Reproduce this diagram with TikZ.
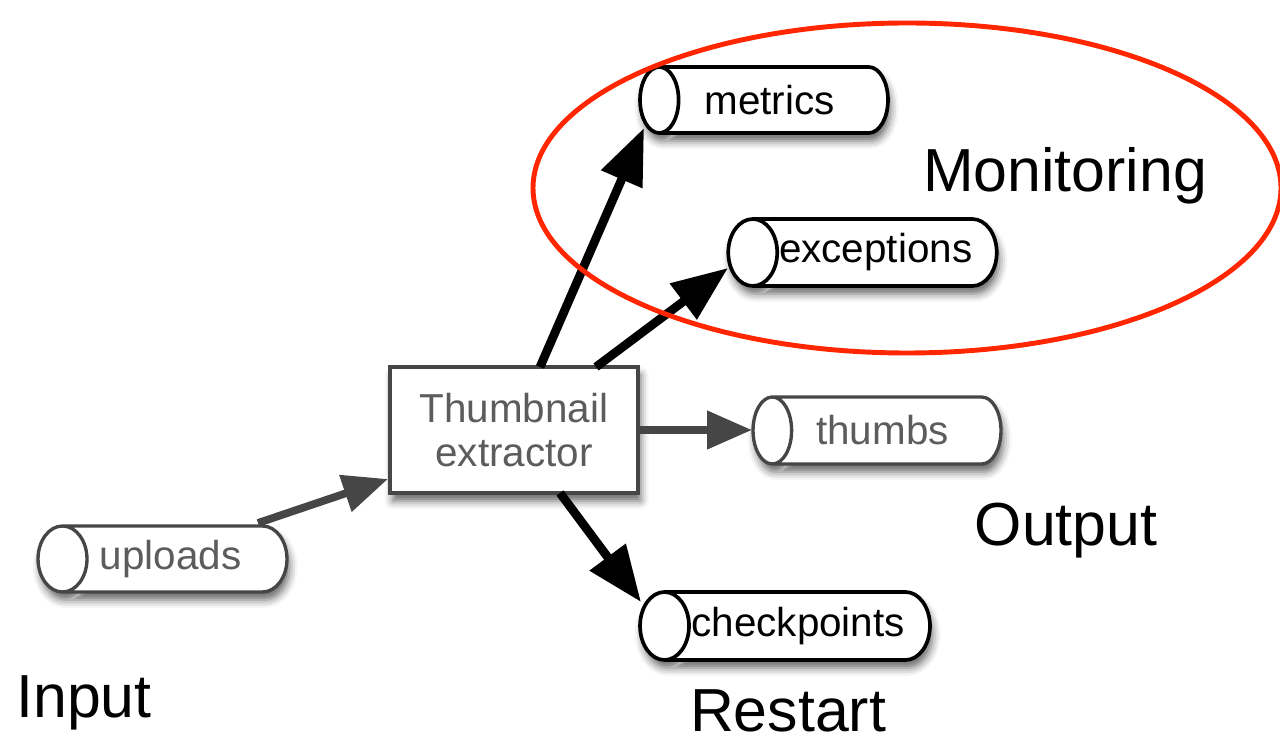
\documentclass[tikz,border=0pt]{standalone}
\usepackage{fontspec}
\setmainfont{Liberation Sans}
\usetikzlibrary{shapes.geometric,shadows.blur,arrows.meta,calc}

\definecolor{lineGray}{RGB}{70,70,70}
\definecolor{textGray}{RGB}{92,92,92}
\definecolor{ringRed}{RGB}{255,38,0}

% label text sits a little left of the cylinder's text centre
\newcommand{\qlabel}[1]{#1\hspace*{0.2cm}}

\tikzset{
  soft shadow/.style={blur shadow={shadow xshift=1.5pt, shadow yshift=-4.5pt,
      shadow blur radius=4.5pt, shadow opacity=60}},
  queue/.style={cylinder, shape border rotate=180, aspect=1.3, draw=black,
      line width=2.1pt, fill=white, inner sep=0pt, anchor=shape center,
      font=\fontsize{23}{27}\selectfont, soft shadow},
  queue gray/.style={queue, draw=lineGray, line width=1.9pt, text=textGray},
  worker/.style={rectangle, draw=lineGray, line width=2pt, fill=white,
      minimum width=4.96cm, minimum height=2.52cm, align=center,
      font=\fontsize{23}{25}\selectfont, text=textGray, soft shadow},
  flow/.style={line width=5pt, -{Triangle[length=1.12cm, width=0.86cm]}},
  flow gray/.style={draw=lineGray, line width=4.4pt,
      -{Triangle[length=0.9cm, width=0.74cm]}},
  caption/.style={anchor=base, inner sep=0pt, text depth=0pt,
      font=\fontsize{34.6}{40}\selectfont}
}

\begin{document}
\begin{tikzpicture}[x=0.02cm, y=-0.02cm]
\useasboundingbox (0,0) rectangle (1280,742);

% topics (for this cylinder, width = diameter, height = length)
\node[queue gray, minimum height=4.98cm, minimum width=1.32cm] (uploads) at (162.5,559) {\qlabel{uploads}};
\node[queue, minimum height=4.96cm, minimum width=1.32cm] (metrics) at (764,100) {\qlabel{metrics}};
\node[queue, minimum height=5.34cm, minimum width=1.34cm] (exceptions) at (862.5,252.5) {exceptions};
\node[queue gray, minimum height=4.96cm, minimum width=1.34cm] (thumbs) at (877,430.5) {\qlabel{thumbs}};
\node[queue, minimum height=5.8cm, minimum width=1.36cm] (checkpoints) at (785,626) {checkpoints};

% processing job
\node[worker] (job) at (514,430) {Thumbnail\\extractor};

% data flow
\draw[flow gray] ($(uploads.shape center)+(95.5,-36)$) -- ($(job.center)+(-126,49)$);
\draw[flow gray] ($(job.center)+(124,0)$) -- ($(thumbs.shape center)+(-125,-0.5)$);
\draw[flow] ($(job.center)+(26,-63)$) -- ($(metrics.shape center)+(-120,28)$);
\draw[flow] ($(job.center)+(82,-63)$) -- ($(exceptions.shape center)+(-134.5,15.5)$);
\draw[flow] ($(job.center)+(46,63)$) -- ($(checkpoints.shape center)+(-144,-24)$);

% monitoring group
\draw[ringRed, line width=2.8pt] (907,188) ellipse [x radius=374, y radius=165];

% section captions
\node[caption] (monitoring) at (1065,192) {Monitoring};
\node[caption] (output) at (1066,545) {Output};
\node[caption] (input) at (84,717) {Input};
\node[caption] (restart) at (788,731) {Restart};
\end{tikzpicture}
\end{document}
